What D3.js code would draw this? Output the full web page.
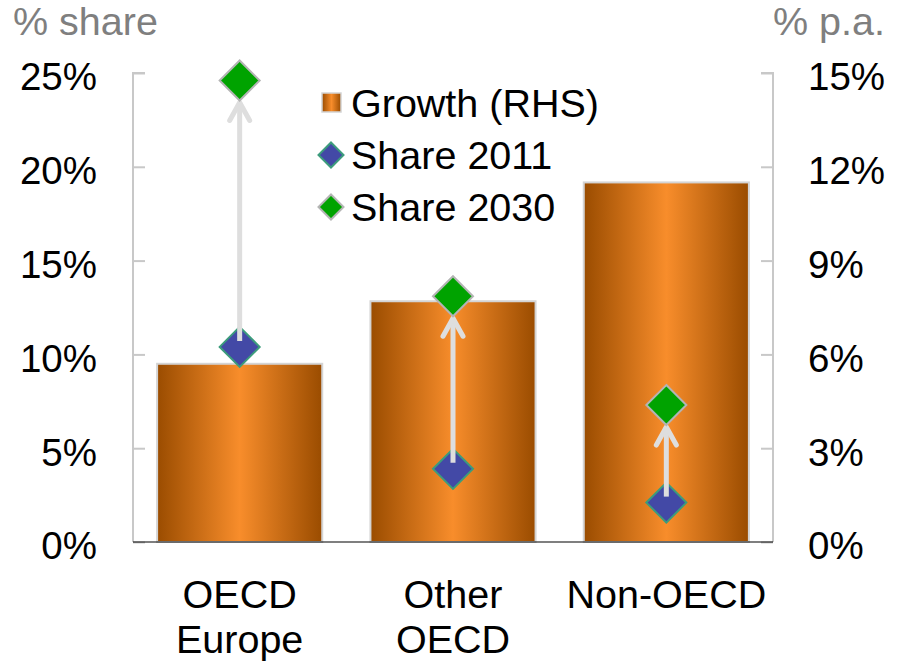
<!DOCTYPE html>
<html>
<head>
<meta charset="utf-8">
<script src="https://cdn.jsdelivr.net/npm/d3@7"></script>
<style>
  html, body { margin: 0; padding: 0; background: #fff; }
  svg { display: block; font-family: "Liberation Sans", Arial, sans-serif; }
</style>
</head>
<body>
<svg id="chart" width="899" height="663"></svg>
<script>
// ---- Data ----
const categories = [["OECD", "Europe"], ["Other", "OECD"], ["Non-OECD"]];
const categoryKeys = ["OECD Europe", "Other OECD", "Non-OECD"];
const growthRHS = [5.7, 7.7, 11.5];      // % p.a. (right axis)
const share2011 = [10.4, 3.9, 2.1];      // % share (left axis)
const share2030 = [24.6, 13.1, 7.3];     // % share (left axis)
const leftTicks = [0, 5, 10, 15, 20, 25];
const rightTicks = [0, 3, 6, 9, 12, 15];
const legendLabels = ["Growth (RHS)", "Share 2011", "Share 2030"];

// ---- Layout ----
const svg = d3.select("#chart");
const plot = { left: 133, right: 773, top: 73, bottom: 542 };
const fontSize = 39.5;
const tickFont = 38.5;

const x = d3.scaleBand().domain(categoryKeys).range([plot.left, plot.right])
  .paddingInner(0.226).paddingOuter(0.113);
const yL = d3.scaleLinear().domain([0, 25]).range([plot.bottom, plot.top]);
const yR = d3.scaleLinear().domain([0, 15]).range([plot.bottom, plot.top]);

const defs = svg.append("defs");
const grad = defs.append("linearGradient").attr("id", "barGrad")
  .attr("x1", "0").attr("x2", "1").attr("y1", "0").attr("y2", "0");
grad.append("stop").attr("offset", "0%").attr("stop-color", "#9a4c00");
grad.append("stop").attr("offset", "50%").attr("stop-color", "#f88d2b");
grad.append("stop").attr("offset", "100%").attr("stop-color", "#9a4c00");

// Titles
svg.append("text").attr("x", 13).attr("y", 35).attr("fill", "#7f7f7f")
  .attr("font-size", fontSize).text("% share");
svg.append("text").attr("x", 885).attr("y", 35).attr("fill", "#7f7f7f")
  .attr("text-anchor", "end").attr("font-size", fontSize).text("% p.a.");

// Left axis
const axL = svg.append("g").attr("transform", `translate(${plot.left},0)`)
  .call(d3.axisRight(yL).tickValues(leftTicks).tickSize(12).tickFormat(""));
axL.selectAll("path, line").attr("stroke", "#c8c8c8").attr("stroke-width", 2);
axL.select(".domain").attr("d", `M12,${plot.top}H0V${plot.bottom}`);
svg.append("g").selectAll("text").data(leftTicks).join("text")
  .attr("x", 97).attr("y", d => yL(d)).attr("dy", "0.45em")
  .attr("text-anchor", "end").attr("font-size", tickFont).attr("fill", "#000")
  .text(d => d + "%");

// Right axis
const axR = svg.append("g").attr("transform", `translate(${plot.right},0)`)
  .call(d3.axisLeft(yR).tickValues(rightTicks).tickSize(12).tickFormat(""));
axR.selectAll("path, line").attr("stroke", "#c8c8c8").attr("stroke-width", 2);
axR.select(".domain").attr("d", `M-12,${plot.top}H0V${plot.bottom}`);
svg.append("g").selectAll("text").data(rightTicks).join("text")
  .attr("x", 808).attr("y", d => yR(d)).attr("dy", "0.45em")
  .attr("text-anchor", "start").attr("font-size", tickFont).attr("fill", "#000")
  .text(d => d + "%");

// Bars
svg.append("g").selectAll("rect").data(categoryKeys).join("rect")
  .attr("x", d => x(d)).attr("width", x.bandwidth())
  .attr("y", (d, i) => yR(growthRHS[i]))
  .attr("height", (d, i) => yR(0) - yR(growthRHS[i]))
  .attr("fill", "url(#barGrad)").attr("stroke", "#d4d4d4").attr("stroke-width", 2);

// Baseline
svg.append("line").attr("x1", plot.left).attr("x2", plot.right)
  .attr("y1", yL(0)).attr("y2", yL(0)).attr("stroke", "#000").attr("stroke-width", 1.2);

const R = 20; // diamond half-diagonal
const diamond = r => `M0,${-r}L${r},0L0,${r}L${-r},0Z`;
const cx = d => x(d) + x.bandwidth() / 2;

// Share 2011 diamonds
svg.append("g").selectAll("path").data(categoryKeys).join("path")
  .attr("transform", (d, i) => `translate(${cx(d)},${yL(share2011[i])})`)
  .attr("d", diamond(R)).attr("fill", "#4349a6").attr("stroke", "#3c9c7c").attr("stroke-width", 2);

// Arrows
const arrows = svg.append("g").attr("stroke", "#dedede").attr("stroke-width", 5)
  .attr("stroke-linecap", "round").attr("fill", "none");
categoryKeys.forEach((d, i) => {
  const xc = cx(d);
  const y0 = yL(share2011[i]) - 6;
  const y1 = yL(share2030[i]) + R;
  arrows.append("line").attr("x1", xc).attr("x2", xc).attr("y1", y0).attr("y2", y1 + 2)
    .attr("stroke-linecap", "butt");
  arrows.append("path").attr("d", `M${xc - 10},${y1 + 20}L${xc},${y1 + 2}L${xc + 10},${y1 + 20}`)
    .attr("stroke-linejoin", "round");
});

// Share 2030 diamonds
svg.append("g").selectAll("path").data(categoryKeys).join("path")
  .attr("transform", (d, i) => `translate(${cx(d)},${yL(share2030[i])})`)
  .attr("d", diamond(R)).attr("fill", "#00a300").attr("stroke", "#b4b4b4").attr("stroke-width", 2);

// X labels
categories.forEach((lines, i) => {
  const t = svg.append("text").attr("x", cx(categoryKeys[i])).attr("y", 608)
    .attr("text-anchor", "middle").attr("font-size", fontSize).attr("fill", "#000");
  lines.forEach((ln, j) => {
    t.append("tspan").attr("x", cx(categoryKeys[i])).attr("dy", j === 0 ? 0 : 45).text(ln);
  });
});

// Legend
const lg = svg.append("g");
const legY = [103, 155, 207];
lg.append("rect").attr("x", 322).attr("y", legY[0] - 10).attr("width", 19).attr("height", 19)
  .attr("fill", "url(#barGrad)").attr("stroke", "#d4d4d4").attr("stroke-width", 1.5);
lg.append("path").attr("transform", `translate(331,${legY[1]})`).attr("d", diamond(12.5))
  .attr("fill", "#4349a6").attr("stroke", "#3c9c7c").attr("stroke-width", 2);
lg.append("path").attr("transform", `translate(331,${legY[2]})`).attr("d", diamond(12.5))
  .attr("fill", "#00a300").attr("stroke", "#b4b4b4").attr("stroke-width", 2);
lg.selectAll("text").data(legendLabels).join("text")
  .attr("x", 351).attr("y", (d, i) => legY[i]).attr("dy", "0.36em")
  .attr("font-size", fontSize).attr("fill", "#000").text(d => d);
</script>
</body>
</html>
